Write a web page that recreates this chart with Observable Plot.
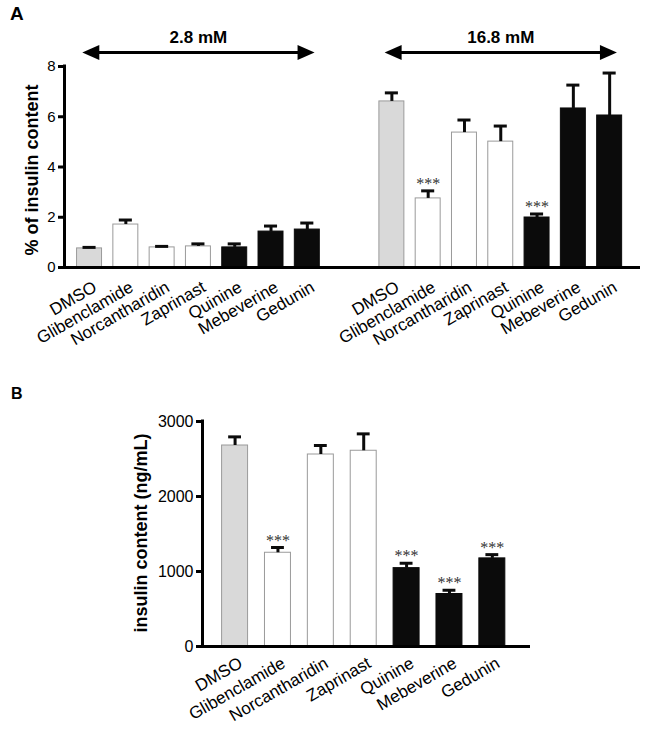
<!DOCTYPE html>
<html><head><meta charset="utf-8">
<script src="https://cdn.jsdelivr.net/npm/d3@7"></script>
<script src="https://cdn.jsdelivr.net/npm/@observablehq/plot@0.6"></script>
<style>
body{margin:0;background:#fff;font-family:"Liberation Sans",Arial,sans-serif;}
#wrap{position:relative;width:649px;height:731px;overflow:hidden;}
.letter{position:absolute;font-weight:bold;line-height:1;}
#a,#b{position:absolute;left:0;}
svg{overflow:visible;}
</style></head><body>
<div id="wrap">
<div id="a" style="top:0"></div>
<div id="b" style="top:370px"></div>
<div class="letter" style="left:10px;top:4px;font-size:19px">A</div>
<div class="letter" style="left:11px;top:386px;font-size:16px">B</div>
</div>
<script>
// ---------- data ----------
const drugs = ["DMSO","Glibenclamide","Norcantharidin","Zaprinast","Quinine","Mebeverine","Gedunin"];
const drugType = ["vehicle","control","control","control","hit","hit","hit"];
const glucose = ["2.8 mM","16.8 mM"];
const secretionLow = [0.76,1.71,0.80,0.84,0.80,1.43,1.51];
const secretionLowSem = [0.04,0.18,0.04,0.10,0.14,0.22,0.26];
const secretionHigh = [6.61,2.75,5.37,5.01,1.99,6.33,6.05];
const secretionHighSem = [0.34,0.30,0.50,0.62,0.14,0.93,1.69];
const sigLow = ["","","","","","",""];
const sigHigh = ["","***","","","***","",""];
const content = [2680,1250,2560,2610,1045,700,1175];
const contentSem = [115,70,120,225,65,50,50];
const sigContent = ["","***","","","***","***","***"];
const yTicksA = [0,2,4,6,8];
const yTicksB = [0,1000,2000,3000];
const yLabelA = "% of insulin content";
const yLabelB = "insulin content (ng/mL)";

// ---------- styling / layout ----------
const FONT = "Liberation Sans, Arial, sans-serif";
const LABEL_ANGLE = -30;
const barStyle = {
  vehicle: {fill: "#d9d9d9", stroke: "#9a9a9a"},
  control: {fill: "#ffffff", stroke: "#9a9a9a"},
  hit: {fill: "#0b0b0b", stroke: "#0b0b0b"}
};
const headRight = {draw(ctx){ctx.moveTo(0,0);ctx.lineTo(-17,-7.5);ctx.lineTo(-17,7.5);ctx.closePath();}};
const headLeft = {draw(ctx){ctx.moveTo(0,0);ctx.lineTo(17,-7.5);ctx.lineTo(17,7.5);ctx.closePath();}};

function barMarks(rows, half, capHalf, labelFont, labelDy) {
  const marks = [];
  for (const [t, s] of Object.entries(barStyle)) {
    marks.push(Plot.rect(rows.filter(d => d.type === t), {
      x1: d => d.pos - half, x2: d => d.pos + half, y1: 0, y2: "value",
      fill: s.fill, stroke: s.stroke, strokeWidth: 1
    }));
  }
  marks.push(
    Plot.ruleX(rows, {x: "pos", y1: "value", y2: d => d.value + d.sem, stroke: "#0b0b0b", strokeWidth: 3}),
    Plot.ruleY(rows, {y: d => d.value + d.sem, x1: d => d.pos - capHalf, x2: d => d.pos + capHalf, stroke: "#0b0b0b", strokeWidth: 3}),
    Plot.text(rows.filter(d => d.sig), {x: "pos", y: d => d.value + d.sem, text: "sig",
      fontFamily: "Liberation Serif, Times New Roman, serif", fontSize: 16, fill: "#333",
      lineAnchor: "bottom", dy: -2}),
    Plot.text(rows, {x: "pos", y: 0, text: "drug", textAnchor: "end", rotate: LABEL_ANGLE,
      lineAnchor: "bottom", dx: 8.5, dy: labelDy, fontSize: labelFont, fill: "#000"})
  );
  return marks;
}

// ---------- Panel A ----------
const groupOffset = [0, 8.33];
const rowsA = glucose.flatMap((g, gi) => drugs.map((d, i) => ({
  group: g, drug: d, type: drugType[i], pos: groupOffset[gi] + i,
  value: gi ? secretionHigh[i] : secretionLow[i],
  sem: gi ? secretionHighSem[i] : secretionLowSem[i],
  sig: gi ? sigHigh[i] : sigLow[i]
})));
const arrows = glucose.map((g, gi) => ({
  label: g, x1: groupOffset[gi] - 0.2, x2: groupOffset[gi] + drugs.length - 1 + 0.2,
  xm: groupOffset[gi] + (drugs.length - 1) / 2
}));
const xDomA = [-0.69, 15.18];
const arrowY = 8.56;

const plotA = Plot.plot({
  width: 649, height: 370,
  marginLeft: 64, marginRight: 9, marginTop: 66, marginBottom: 103,
  style: {fontFamily: FONT, color: "#000", background: "transparent"},
  x: {domain: xDomA, axis: null},
  y: {domain: [0, 8], axis: null},
  marks: [
    ...barMarks(rowsA, 0.344, 0.18, 17, 23),
    Plot.ruleY([0], {x1: xDomA[0], x2: xDomA[1], strokeWidth: 3, stroke: "#000"}),
    Plot.ruleX([xDomA[0]], {y1: 0, y2: 8, strokeWidth: 3, stroke: "#000", strokeLinecap: "square"}),
    Plot.axisY(yTicksA, {tickSize: 6, tickPadding: 3, fontSize: 15, strokeWidth: 3, label: null}),
    Plot.text([yLabelA], {frameAnchor: "left", text: d => d, rotate: -90, lineAnchor: "bottom",
      textAnchor: "middle", dx: -27, dy: 3, fontWeight: "bold", fontSize: 18}),
    Plot.ruleY(arrows, {y: arrowY, x1: "x1", x2: "x2", insetLeft: 10, insetRight: 10, strokeWidth: 3, stroke: "#000"}),
    Plot.dot(arrows, {x: "x1", y: arrowY, symbol: headLeft, fill: "#000", stroke: null, r: 5}),
    Plot.dot(arrows, {x: "x2", y: arrowY, symbol: headRight, fill: "#000", stroke: null, r: 5}),
    Plot.text(arrows, {x: "xm", y: arrowY, text: "label", lineAnchor: "bottom", dy: -9,
      fontWeight: "bold", fontSize: 17})
  ]
});
document.getElementById("a").appendChild(plotA);

// ---------- Panel B ----------
const rowsB = drugs.map((d, i) => ({
  drug: d, type: drugType[i], pos: i, value: content[i], sem: contentSem[i], sig: sigContent[i]
}));
const xDomB = [-0.76, 6.89];
const plotB = Plot.plot({
  width: 649, height: 361,
  marginLeft: 202, marginRight: 119, marginTop: 51, marginBottom: 85,
  style: {fontFamily: FONT, color: "#000", background: "transparent"},
  x: {domain: xDomB, axis: null},
  y: {domain: [0, 3000], axis: null},
  marks: [
    ...barMarks(rowsB, 0.303, 0.15, 17, 20),
    Plot.ruleY([0], {x1: xDomB[0], x2: xDomB[1], strokeWidth: 3, stroke: "#000"}),
    Plot.ruleX([xDomB[0]], {y1: 0, y2: 3000, strokeWidth: 3, stroke: "#000", strokeLinecap: "square"}),
    Plot.axisY(yTicksB, {tickSize: 6, tickPadding: 3, fontSize: 16, strokeWidth: 3, label: null, tickFormat: d => String(d)}),
    Plot.text([yLabelB], {frameAnchor: "left", text: d => d, rotate: -90, lineAnchor: "bottom",
      textAnchor: "middle", dx: -56, dy: -1, fontWeight: "bold", fontSize: 18})
  ]
});
document.getElementById("b").appendChild(plotB);
</script>
</body></html>
